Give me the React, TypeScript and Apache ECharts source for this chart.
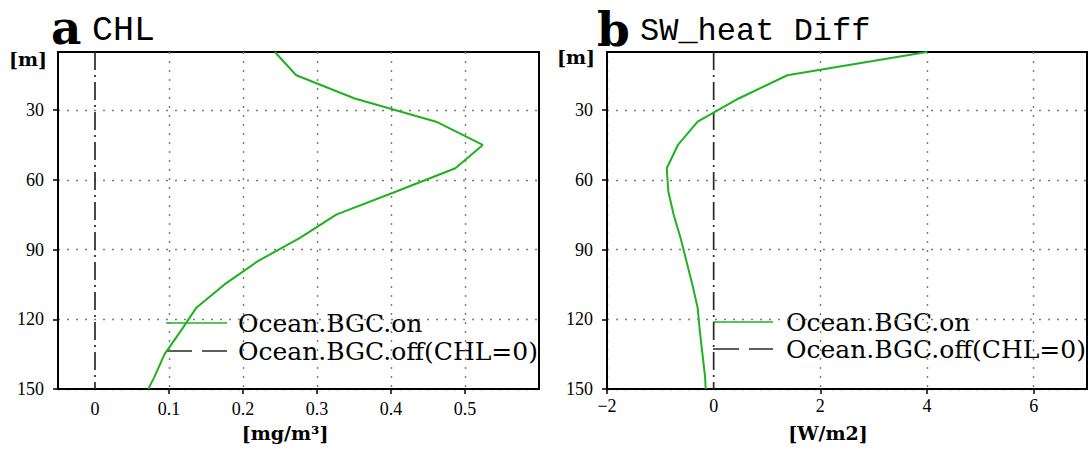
import React, { useEffect, useRef } from "react";
import * as echarts from "echarts";

// ---- data ----
const depthLevels = [5, 15, 25, 35, 45, 55, 65, 75, 85, 95, 105, 115, 125, 135, 145, 150];
const chlOn = [0.243, 0.272, 0.351, 0.461, 0.524, 0.487, 0.407, 0.326, 0.277, 0.22, 0.175, 0.137, 0.116, 0.094, 0.08, 0.072];
const swDiffOn = [4.0, 1.38, 0.47, -0.3, -0.67, -0.88, -0.85, -0.75, -0.62, -0.51, -0.4, -0.3, -0.26, -0.21, -0.16, -0.15];
const offDepth = [5, 150];
const chlOff = [0, 0];
const swDiffOff = [0, 0];

const depthTicks = [30, 60, 90, 120, 150];
const chlTicks = [0, 0.1, 0.2, 0.3, 0.4, 0.5];
const swTicks = [-2, 0, 2, 4, 6];

const seriesNames = ["Ocean.BGC.on", "Ocean.BGC.off(CHL=0)"];

const GREEN = "#1fb21f";
const OFFC = "#2a2a2a";
const OFF_DASH = [18, 5, 2, 5];

const tickFont = { fontFamily: "Liberation Serif", fontSize: 18, color: "#000" };
const gridDot = { color: "#7a7a7a", width: 1.4, type: [2, 7] as number[] };

function fmt(v: number) {
  if (v < 0) return "\u2212" + Math.abs(v);
  return String(v);
}

function xAxisCfg(gridIndex: number, min: number, max: number, ticks: number[], margin: number) {
  // grid lines / tick marks everywhere except on the zero line, which the off series draws
  const gridTicks = ticks.filter((t) => t !== 0);
  return {
    type: "value",
    gridIndex,
    min,
    max,
    axisLine: { show: true, onZero: false, lineStyle: { color: "#000", width: 2 } },
    axisTick: { show: true, length: 5, customValues: gridTicks, lineStyle: { color: "#000", width: 1.5 } },
    axisLabel: { ...tickFont, margin, customValues: ticks, formatter: (v: number) => fmt(v) },
    splitLine: { show: true, lineStyle: gridDot },
  };
}

function yAxisCfg(gridIndex: number) {
  return {
    type: "value",
    gridIndex,
    inverse: true,
    min: 5,
    max: 150,
    axisLine: { show: true, onZero: false, lineStyle: { color: "#000", width: 2 } },
    axisTick: { show: true, length: 5, customValues: depthTicks, lineStyle: { color: "#000", width: 1.5 } },
    axisLabel: { ...tickFont, margin: 14, customValues: depthTicks },
    splitLine: { show: true, lineStyle: gridDot },
  };
}

// dash-dot "off" profile, drawn through the axes with a custom series
function offSeries(axisIndex: number, values: number[]) {
  const pts = offDepth.map((d, i) => [values[i], d]);
  return {
    name: seriesNames[1],
    type: "custom",
    xAxisIndex: axisIndex,
    yAxisIndex: axisIndex,
    clip: false,
    z: 3,
    data: pts,
    renderItem: (params: any, api: any) => {
      if (params.dataIndex !== 0) return null;
      const points = pts.map((p) => api.coord(p));
      return {
        type: "polyline",
        shape: { points },
        style: { stroke: OFFC, lineWidth: 1.7, fill: "none", lineDash: OFF_DASH },
      };
    },
  };
}

export default function App() {
  const ref = useRef<HTMLDivElement>(null);
  useEffect(() => {
    if (!ref.current) return;
    const chart = echarts.init(ref.current, undefined, { renderer: "svg" });
    const legendFont = { fontFamily: "DejaVu Serif", fontSize: 25, fill: "#000" };
    const titleFont = { fontFamily: "Liberation Mono", fontSize: 32, fill: "#000" };
    const letterFont = { fontFamily: "DejaVu Serif", fontSize: 47, fontWeight: "bold", fill: "#000" };
    const unitFont = { fontFamily: "DejaVu Serif", fontSize: 19, fontWeight: "bold", fill: "#000" };

    const legendEls = (x0: number, x1: number, tx: number, y1: number, y2: number) => [
      { type: "line", shape: { x1: x0, y1: y1, x2: x1, y2: y1 }, style: { stroke: GREEN, lineWidth: 1.5 } },
      { type: "line", shape: { x1: x0, y1: y2, x2: x1, y2: y2 }, style: { stroke: OFFC, lineWidth: 1.5, lineDash: [26, 10] } },
      { type: "text", x: tx, y: y1, style: { text: seriesNames[0], ...legendFont, verticalAlign: "middle", align: "left" } },
      { type: "text", x: tx, y: y2, style: { text: seriesNames[1], ...legendFont, verticalAlign: "middle", align: "left" } },
    ];

    chart.setOption({
      animation: false,
      backgroundColor: "#fff",
      grid: [
        { left: 58, top: 52, width: 481, height: 337, show: true, borderColor: "#000", borderWidth: 2, backgroundColor: "transparent" },
        { left: 607, top: 52, width: 480, height: 337, show: true, borderColor: "#000", borderWidth: 2, backgroundColor: "transparent" },
      ],
      xAxis: [xAxisCfg(0, -0.05, 0.6, chlTicks, 11), xAxisCfg(1, -2, 7, swTicks, 8)],
      yAxis: [yAxisCfg(0), yAxisCfg(1)],
      series: [
        offSeries(0, chlOff),
        {
          name: seriesNames[0], type: "line", xAxisIndex: 0, yAxisIndex: 0, symbol: "none",
          data: depthLevels.map((d, i) => [chlOn[i], d]),
          lineStyle: { color: GREEN, width: 2 },
        },
        offSeries(1, swDiffOff),
        {
          name: seriesNames[0], type: "line", xAxisIndex: 1, yAxisIndex: 1, symbol: "none",
          data: depthLevels.map((d, i) => [swDiffOn[i], d]),
          lineStyle: { color: GREEN, width: 2 },
        },
      ],
      graphic: [
        { type: "text", x: 51, y: 27, style: { text: "a", ...letterFont, verticalAlign: "middle" } },
        { type: "text", x: 92, y: 31, style: { text: "CHL", ...titleFont, fontSize: 35, verticalAlign: "middle" } },
        { type: "text", x: 597, y: 29, style: { text: "b", ...letterFont, verticalAlign: "middle" } },
        { type: "text", x: 640, y: 31, style: { text: "SW_heat Diff", ...titleFont, verticalAlign: "middle" } },
        { type: "text", x: 9, y: 59, style: { text: "[m]", ...unitFont, verticalAlign: "middle" } },
        { type: "text", x: 557, y: 57, style: { text: "[m]", ...unitFont, verticalAlign: "middle" } },
        { type: "text", x: 285, y: 433, style: { text: "[mg/m\u00b3]", ...unitFont, verticalAlign: "middle", align: "center" } },
        { type: "text", x: 828, y: 433, style: { text: "[W/m2]", ...unitFont, verticalAlign: "middle", align: "center" } },
        ...legendEls(166, 227, 238, 323, 351),
        ...legendEls(713, 773, 786, 322, 349),
      ],
    });
    return () => chart.dispose();
  }, []);
  return <div ref={ref} style={{ position: "fixed", left: 0, top: 0, width: 1090, height: 450, background: "#fff" }} />;
}
